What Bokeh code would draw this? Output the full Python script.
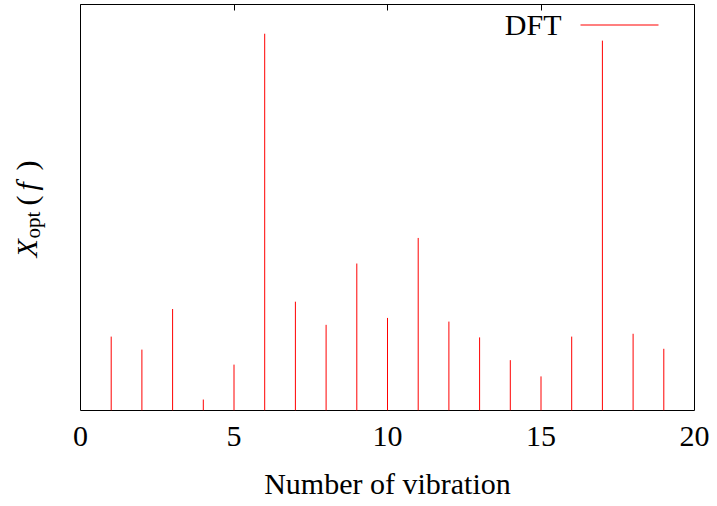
import math
from bokeh.plotting import figure
from bokeh.layouts import row
from bokeh.models import FixedTicker, LinearAxis, Label, BoxAnnotation, Range1d
from bokeh.embed import file_html
from bokeh.resources import INLINE

# data (arbitrary units, axis top = 100)
modes = list(range(1, 20))
amplitude = [18.2, 15.0, 25.0, 2.7, 11.3, 92.8, 26.8, 21.1, 36.2, 22.8,
             42.5, 21.9, 18.0, 12.4, 8.4, 18.2, 91.1, 18.9, 15.2]
x_ticks = [0, 5, 10, 15, 20]
series_name = "DFT"
x_label = "Number of vibration"

FONT = "Liberation Serif"
LEFT_W = 56

p = figure(width=717 - LEFT_W, height=506, output_backend="svg", toolbar_location=None,
           x_range=Range1d(0, 20), y_range=Range1d(0, 100),
           min_border_left=80 - LEFT_W, min_border_right=23, min_border_top=4,
           min_border_bottom=96, x_axis_location=None, y_axis_location=None)
p.grid.visible = False
p.outline_line_color = "black"
p.outline_line_width = 1
p.background_fill_color = "white"
p.border_fill_color = "white"

p.segment(x0=modes, y0=[0] * len(modes), x1=modes, y1=amplitude,
          line_color="#ff0000", line_width=1)

bottom = LinearAxis(ticker=FixedTicker(ticks=x_ticks), axis_label=x_label)
bottom.axis_line_color = None
bottom.major_tick_in = 6
bottom.major_tick_out = 0
bottom.major_tick_line_color = None   # hidden under the impulses in the original
bottom.minor_tick_line_color = None
bottom.major_label_text_font = FONT
bottom.major_label_text_font_size = "30px"
bottom.major_label_text_color = "black"
bottom.major_label_standoff = 16
bottom.axis_label_text_font = FONT
bottom.axis_label_text_font_size = "30px"
bottom.axis_label_text_font_style = "normal"
bottom.axis_label_text_color = "black"
bottom.axis_label_standoff = 18
p.add_layout(bottom, "below")

top = LinearAxis(ticker=FixedTicker(ticks=x_ticks))
top.axis_line_color = None
top.major_tick_in = 6
top.major_tick_out = 0
top.major_tick_line_color = "black"
top.minor_tick_line_color = None
top.major_label_overrides = {t: "" for t in x_ticks}
top.major_label_text_font_size = "1px"
top.major_label_standoff = 0
p.add_layout(top, "above")

# legend (text left of the key line, gnuplot style)
p.add_layout(Label(x=561 - LEFT_W, y=24,
                   x_units="canvas", y_units="canvas", text=series_name,
                   text_font=FONT, text_font_size="30px", text_color="black",
                   text_align="right", text_baseline="alphabetic"))
p.add_layout(BoxAnnotation(left=580 - LEFT_W, right=658 - LEFT_W, top=24, bottom=25,
                           left_units="canvas", right_units="canvas",
                           top_units="canvas", bottom_units="canvas",
                           fill_color="#ff0000", fill_alpha=1.0,
                           line_color=None))

# y-axis label panel:  X_opt ( f )
yl = figure(width=LEFT_W, height=506, output_backend="svg", toolbar_location=None,
            x_range=Range1d(0, 1), y_range=Range1d(0, 1),
            min_border=0, x_axis_location=None, y_axis_location=None)
yl.grid.visible = False
yl.outline_line_color = None
yl.background_fill_color = "white"
yl.border_fill_color = "white"

def lab(text, x, y, size, style="normal"):
    yl.add_layout(Label(x=x, y=y, x_units="canvas", y_units="canvas", text=text,
                        angle=math.pi / 2, text_font=FONT, text_font_size=size,
                        text_font_style=style, text_color="black",
                        text_baseline="middle", text_align="left"))

lab("X", 26, 257, "30px", "italic")
lab("opt", 32, 238, "21px")
lab("(", 26, 205, "30px")
lab("f", 26, 190, "30px", "italic")
lab(")", 26, 170, "30px")

layout = row(yl, p, spacing=0)
open("out.html", "w").write(file_html(layout, INLINE))
